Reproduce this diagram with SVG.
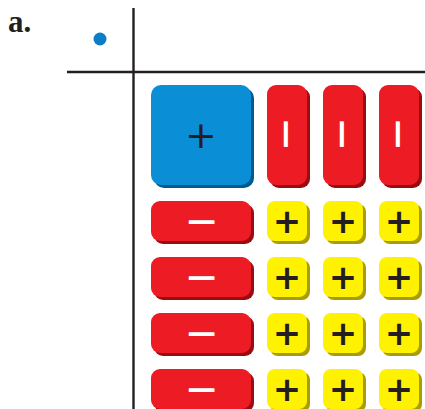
<svg xmlns="http://www.w3.org/2000/svg" width="425" height="409" viewBox="0 0 425 409">
<style>
.blue{fill:#0a8fd6}.blueS{fill:#005a8e}
.red{fill:#ed1c24}.redS{fill:#9a0b12}
.yel{fill:#fff200}.yelS{fill:#a89c00}
.sym{font-family:"DejaVu Sans",sans-serif;font-weight:bold;font-size:34px;text-anchor:middle;fill:#231f20}
.bsym{font-family:"DejaVu Sans",sans-serif;font-size:38px;text-anchor:middle;fill:#231f20}
.wsym{font-family:"DejaVu Sans",sans-serif;font-weight:bold;font-size:34px;text-anchor:middle;fill:#ffffff}
.axis{stroke:#231f20;stroke-width:2.4;fill:none}
</style>
<rect width="425" height="409" fill="#ffffff"/>
<text x="8" y="32" font-family="Liberation Serif,serif" font-weight="bold" font-size="31" fill="#231f20">a.</text>
<circle cx="100" cy="39" r="6.5" fill="#0a7fc8"/>
<g id="axes">
<line class="axis" x1="133.5" y1="8" x2="133.5" y2="409"/>
<line class="axis" x1="67" y1="72" x2="425" y2="72"/>
</g>
<g id="x2-tile">
<rect class="blueS" x="154" y="88" width="100" height="100" rx="10"/>
<rect class="blue" x="151" y="85" width="100" height="100" rx="10"/>
<text class="bsym" x="201" y="148.2">+</text>
</g>
<g id="x-tiles">
<g id="neg-x-1"><rect class="redS" x="270" y="88" width="40" height="100" rx="9"/><rect class="red" x="267" y="85" width="40" height="100" rx="9"/><text class="wsym" transform="translate(287 134) rotate(90) scale(1.2 1)" x="0" y="11.8">−</text></g>
<g id="neg-x-2"><rect class="redS" x="326" y="88" width="40" height="100" rx="9"/><rect class="red" x="323" y="85" width="40" height="100" rx="9"/><text class="wsym" transform="translate(343 134) rotate(90) scale(1.2 1)" x="0" y="11.8">−</text></g>
<g id="neg-x-3"><rect class="redS" x="382" y="88" width="40" height="100" rx="9"/><rect class="red" x="379" y="85" width="40" height="100" rx="9"/><text class="wsym" transform="translate(399 134) rotate(90) scale(1.2 1)" x="0" y="11.8">−</text></g>
</g>
<g id="row-1">
<g id="neg-xh-1"><rect class="redS" x="154" y="204" width="100" height="40" rx="9"/><rect class="red" x="151" y="201" width="100" height="40" rx="9"/><text class="wsym" transform="translate(201.5 221) scale(1.2 1)" x="0" y="11.8">−</text></g>
<g id="one-1-1"><rect class="yelS" x="270" y="204" width="40" height="40" rx="8"/><rect class="yel" x="267" y="201" width="40" height="40" rx="8"/><text class="sym" x="287" y="232.8">+</text></g>
<g id="one-1-2"><rect class="yelS" x="326" y="204" width="40" height="40" rx="8"/><rect class="yel" x="323" y="201" width="40" height="40" rx="8"/><text class="sym" x="343" y="232.8">+</text></g>
<g id="one-1-3"><rect class="yelS" x="382" y="204" width="40" height="40" rx="8"/><rect class="yel" x="379" y="201" width="40" height="40" rx="8"/><text class="sym" x="399" y="232.8">+</text></g>
</g>
<g id="row-2">
<g id="neg-xh-2"><rect class="redS" x="154" y="260" width="100" height="40" rx="9"/><rect class="red" x="151" y="257" width="100" height="40" rx="9"/><text class="wsym" transform="translate(201.5 277) scale(1.2 1)" x="0" y="11.8">−</text></g>
<g id="one-2-1"><rect class="yelS" x="270" y="260" width="40" height="40" rx="8"/><rect class="yel" x="267" y="257" width="40" height="40" rx="8"/><text class="sym" x="287" y="288.8">+</text></g>
<g id="one-2-2"><rect class="yelS" x="326" y="260" width="40" height="40" rx="8"/><rect class="yel" x="323" y="257" width="40" height="40" rx="8"/><text class="sym" x="343" y="288.8">+</text></g>
<g id="one-2-3"><rect class="yelS" x="382" y="260" width="40" height="40" rx="8"/><rect class="yel" x="379" y="257" width="40" height="40" rx="8"/><text class="sym" x="399" y="288.8">+</text></g>
</g>
<g id="row-3">
<g id="neg-xh-3"><rect class="redS" x="154" y="316" width="100" height="40" rx="9"/><rect class="red" x="151" y="313" width="100" height="40" rx="9"/><text class="wsym" transform="translate(201.5 333) scale(1.2 1)" x="0" y="11.8">−</text></g>
<g id="one-3-1"><rect class="yelS" x="270" y="316" width="40" height="40" rx="8"/><rect class="yel" x="267" y="313" width="40" height="40" rx="8"/><text class="sym" x="287" y="344.8">+</text></g>
<g id="one-3-2"><rect class="yelS" x="326" y="316" width="40" height="40" rx="8"/><rect class="yel" x="323" y="313" width="40" height="40" rx="8"/><text class="sym" x="343" y="344.8">+</text></g>
<g id="one-3-3"><rect class="yelS" x="382" y="316" width="40" height="40" rx="8"/><rect class="yel" x="379" y="313" width="40" height="40" rx="8"/><text class="sym" x="399" y="344.8">+</text></g>
</g>
<g id="row-4">
<g id="neg-xh-4"><rect class="redS" x="154" y="372" width="100" height="40" rx="9"/><rect class="red" x="151" y="369" width="100" height="40" rx="9"/><text class="wsym" transform="translate(201.5 389) scale(1.2 1)" x="0" y="11.8">−</text></g>
<g id="one-4-1"><rect class="yelS" x="270" y="372" width="40" height="40" rx="8"/><rect class="yel" x="267" y="369" width="40" height="40" rx="8"/><text class="sym" x="287" y="400.8">+</text></g>
<g id="one-4-2"><rect class="yelS" x="326" y="372" width="40" height="40" rx="8"/><rect class="yel" x="323" y="369" width="40" height="40" rx="8"/><text class="sym" x="343" y="400.8">+</text></g>
<g id="one-4-3"><rect class="yelS" x="382" y="372" width="40" height="40" rx="8"/><rect class="yel" x="379" y="369" width="40" height="40" rx="8"/><text class="sym" x="399" y="400.8">+</text></g>
</g>
</svg>
